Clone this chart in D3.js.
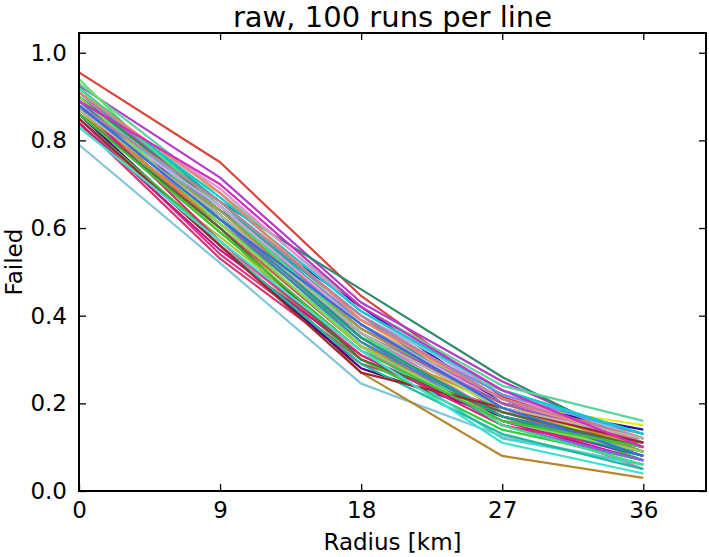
<!DOCTYPE html>
<html><head><meta charset="utf-8">
<script src="https://cdn.jsdelivr.net/npm/d3@7"></script>
<style>
html,body{margin:0;padding:0;background:#fff;}
svg{display:block;font-family:"DejaVu Sans",sans-serif;}
</style></head>
<body><svg id="chart" width="709" height="557"></svg>
<script>
const radiusKm = [0, 9, 18, 27, 36];
const xTickValues = [0, 9, 18, 27, 36];
const yTickValues = [0.0, 0.2, 0.4, 0.6, 0.8, 1.0];
const titleText = "raw, 100 runs per line";
const xLabelText = "Radius [km]";
const yLabelText = "Failed";

// failed fraction for each run-line, one array per radius
const failedAt0  = [0.955,0.925,0.790,0.860,0.900,0.930,0.880,0.870,0.850,0.910,0.880,0.900,0.860,0.880,0.940,0.870,0.840,0.830,0.900,0.860,0.920,0.890,0.870,0.850,0.910,0.860,0.840,0.890,0.870,0.900,0.880,0.860,0.910,0.850,0.880,0.900,0.860,0.870,0.880,0.920,0.890,0.870,0.860,0.910,0.850,0.880,0.870,0.900,0.880,0.850,0.870,0.880,0.860,0.830,0.890];
const failedAt9  = [0.750,0.715,0.520,0.600,0.660,0.680,0.620,0.640,0.540,0.640,0.620,0.690,0.680,0.600,0.620,0.650,0.530,0.580,0.630,0.560,0.660,0.610,0.660,0.570,0.650,0.610,0.550,0.640,0.590,0.630,0.600,0.620,0.670,0.560,0.630,0.650,0.640,0.610,0.570,0.650,0.620,0.650,0.600,0.680,0.560,0.620,0.630,0.610,0.660,0.560,0.630,0.620,0.590,0.570,0.700];
const failedAt18 = [0.445,0.430,0.245,0.270,0.460,0.420,0.390,0.420,0.300,0.360,0.340,0.410,0.380,0.330,0.350,0.400,0.290,0.320,0.370,0.280,0.380,0.360,0.400,0.300,0.370,0.350,0.310,0.390,0.340,0.330,0.330,0.360,0.410,0.320,0.350,0.380,0.370,0.330,0.310,0.360,0.340,0.380,0.300,0.390,0.290,0.360,0.350,0.330,0.400,0.270,0.360,0.380,0.320,0.320,0.420];
const failedAt27 = [0.215,0.250,0.125,0.080,0.260,0.240,0.200,0.200,0.170,0.190,0.150,0.220,0.210,0.160,0.230,0.180,0.190,0.170,0.200,0.170,0.180,0.170,0.230,0.140,0.210,0.160,0.160,0.220,0.190,0.120,0.170,0.190,0.230,0.180,0.150,0.200,0.190,0.200,0.150,0.150,0.170,0.200,0.180,0.210,0.130,0.200,0.170,0.160,0.210,0.190,0.190,0.190,0.160,0.110,0.230];
const failedAt36 = [0.120,0.110,0.060,0.030,0.100,0.160,0.150,0.140,0.090,0.070,0.060,0.110,0.100,0.080,0.130,0.120,0.100,0.090,0.130,0.080,0.090,0.050,0.120,0.070,0.090,0.110,0.070,0.130,0.100,0.060,0.110,0.080,0.130,0.120,0.070,0.100,0.090,0.100,0.090,0.060,0.100,0.120,0.100,0.110,0.050,0.110,0.080,0.090,0.120,0.110,0.120,0.080,0.100,0.040,0.100];
const lineColors = ["#d9453a","#b23ec9","#7fc6dd","#b8862b","#2e8b6e","#5fd3a0","#e6e619","#1a1aa6","#e6338a","#33cc33","#2bb5b5","#f08cd0","#c8c870","#8a2be2","#66e066","#1fa3a3","#d43a6f","#9acd32","#ff6347","#4b0082","#20b2aa","#da70d6","#6ec8f0","#32cd32","#ba55d3","#3cb371","#c71585","#6495ed","#adff2f","#48d1cc","#cd5c5c","#9370db","#00ced1","#ff69b4","#7b68ee","#2e8b57","#a0a040","#e08a2e","#e0207a","#3ce08a","#4682b4","#dda0dd","#556b2f","#fa8072","#1abc9c","#9b59b6","#16a085","#7fdd4c","#c0809a","#a0282d","#b8b8a0","#3070e0","#40c040","#40e0d0","#d030c0"];

const margin = {left: 79, right: 3, top: 33, bottom: 66};
const W = 709, H = 557;
const svg = d3.select("#chart");
const x = d3.scaleLinear().domain([0, 40]).range([margin.left, W - margin.right]);
const y = d3.scaleLinear().domain([0, 1.045]).range([H - margin.bottom, margin.top]);

const lineGen = d3.line().x(d => x(d[0])).y(d => y(d[1]));
const lineCount = failedAt0.length;
const g = svg.append("g");
for (let i = 0; i < lineCount; i++) {
  const vals = [failedAt0[i], failedAt9[i], failedAt18[i], failedAt27[i], failedAt36[i]];
  const pts = radiusKm.map((r, j) => [r, vals[j]]);
  g.append("path").datum(pts).attr("d", lineGen)
    .attr("fill", "none").attr("stroke", lineColors[i % lineColors.length])
    .attr("stroke-width", 2.2).attr("stroke-linejoin", "round");
}

const tickLen = 7;
const fs = 23;
const xb = d3.axisBottom(x).tickValues(xTickValues).tickFormat(d3.format("d")).tickSizeInner(-tickLen).tickSizeOuter(0).tickPadding(tickLen + 4);
const gx = svg.append("g").attr("transform", `translate(0,${y(0)})`).call(xb);
const xt = d3.axisTop(x).tickValues(xTickValues).tickFormat("").tickSizeInner(-tickLen).tickSizeOuter(0);
const gxt = svg.append("g").attr("transform", `translate(0,${margin.top})`).call(xt);
const yl = d3.axisLeft(y).tickValues(yTickValues).tickFormat(d3.format(".1f")).tickSizeInner(-tickLen).tickSizeOuter(0).tickPadding(tickLen + 5);
const gy = svg.append("g").attr("transform", `translate(${margin.left},0)`).call(yl);
const yr = d3.axisRight(y).tickValues(yTickValues).tickFormat("").tickSizeInner(-tickLen).tickSizeOuter(0);
const gyr = svg.append("g").attr("transform", `translate(${W - margin.right},0)`).call(yr);
[gx, gxt, gy, gyr].forEach(a => {
  a.select(".domain").remove();
  a.selectAll(".tick line").attr("stroke", "#000").attr("stroke-width", 1.3);
  a.selectAll("text").attr("font-size", fs).attr("font-family", "DejaVu Sans").attr("fill", "#000");
});
svg.append("rect").attr("x", margin.left).attr("y", margin.top)
  .attr("width", W - margin.right - margin.left).attr("height", y(0) - margin.top)
  .attr("fill", "none").attr("stroke", "#000").attr("stroke-width", 2);

svg.append("text").attr("x", (margin.left + W - margin.right) / 2).attr("y", 27)
  .attr("text-anchor", "middle").attr("font-size", 29).text(titleText);
svg.append("text").attr("x", (margin.left + W - margin.right) / 2).attr("y", 550)
  .attr("text-anchor", "middle").attr("font-size", fs).text(xLabelText);
svg.append("text").attr("transform", `translate(22,${(margin.top + y(0)) / 2}) rotate(-90)`)
  .attr("text-anchor", "middle").attr("font-size", fs).text(yLabelText);
</script></body></html>
